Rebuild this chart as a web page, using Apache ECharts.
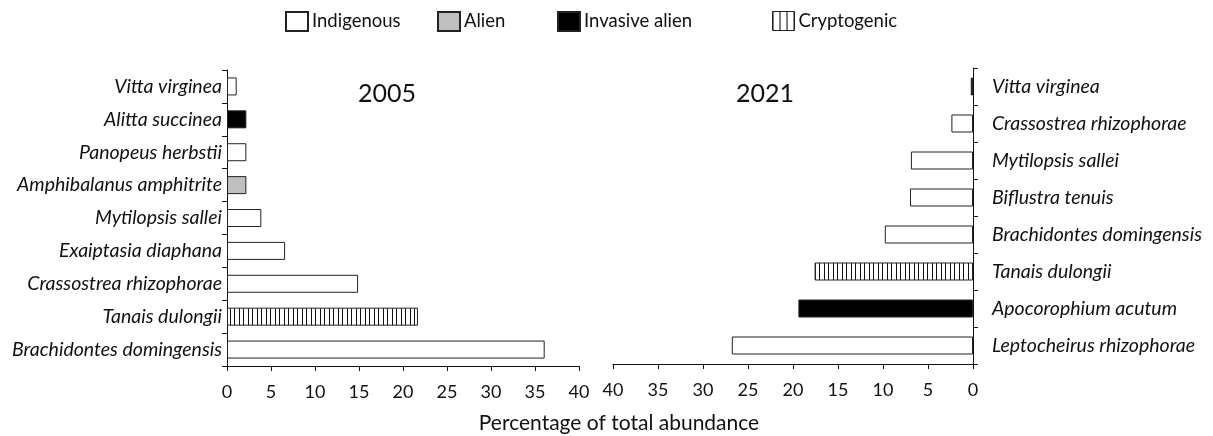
<!DOCTYPE html>
<html>
<head>
<meta charset="utf-8">
<script src="https://cdn.jsdelivr.net/npm/echarts@6/dist/echarts.min.js"></script>
<style>
  html, body { margin: 0; padding: 0; background: #fff; }
  #chart { width: 1213px; height: 436px; }
</style>
</head>
<body>
<div id="chart"></div>
<script>
// Species shares of total abundance, by survey year
const species2005 = ['Vitta virginea', 'Alitta succinea', 'Panopeus herbstii', 'Amphibalanus amphitrite',
  'Mytilopsis sallei', 'Exaiptasia diaphana', 'Crassostrea rhizophorae', 'Tanais dulongii', 'Brachidontes domingensis'];
const values2005 = [1.1, 2.2, 2.2, 2.2, 3.9, 6.6, 14.9, 21.7, 36.1];
const status2005 = ['Indigenous', 'Invasive alien', 'Indigenous', 'Alien', 'Indigenous', 'Indigenous',
  'Indigenous', 'Cryptogenic', 'Indigenous'];

const species2021 = ['Vitta virginea', 'Crassostrea rhizophorae', 'Mytilopsis sallei', 'Biflustra tenuis',
  'Brachidontes domingensis', 'Tanais dulongii', 'Apocorophium acutum', 'Leptocheirus rhizophorae'];
const values2021 = [0.25, 2.4, 6.9, 7.0, 9.8, 17.6, 19.4, 26.8];
const status2021 = ['Invasive alien', 'Indigenous', 'Indigenous', 'Indigenous', 'Indigenous',
  'Cryptogenic', 'Invasive alien', 'Indigenous'];

const statuses = ['Indigenous', 'Alien', 'Invasive alien', 'Cryptogenic'];
const xTicks = { min: 0, max: 40, interval: 5 };
const axisTitle = 'Percentage of total abundance';

// vertical hatching used for cryptogenic species
function hatch(period, h) {
  const c = document.createElement('canvas');
  c.width = period; c.height = h;
  const g = c.getContext('2d');
  g.fillStyle = '#fff';
  g.fillRect(0, 0, period, h);
  g.fillStyle = '#111';
  g.fillRect(0, 0, 1, h);
  if (period >= 9) g.fillRect(Math.round(period / 2), 0, 1, h);
  return c;
}
const barHatch = { image: hatch(9, 20), repeat: 'repeat' };
const legendHatch = { image: hatch(7, 20), repeat: 'repeat' };

const fills = {
  'Indigenous': '#ffffff',
  'Alien': '#bfbfbf',
  'Invasive alien': '#000000',
  'Cryptogenic': barHatch
};

const FONT = 'Lato';
const INK = '#111';

function seriesFor(panel, vals, stat) {
  return statuses.map(s => ({
    name: s,
    type: 'bar',
    xAxisIndex: panel,
    yAxisIndex: panel,
    stack: 'p' + panel,
    barWidth: 18,
    silent: true,
    itemStyle: { color: fills[s], borderColor: '#222', borderWidth: 1 },
    data: vals.map((v, i) => (stat[i] === s ? v : null))
  }));
}

function xAxisFor(panel, inverse) {
  return {
    type: 'value',
    gridIndex: panel,
    inverse: inverse,
    min: xTicks.min, max: xTicks.max, interval: xTicks.interval,
    axisLine: { show: true, lineStyle: { color: INK, width: 1 } },
    axisTick: { show: true, length: 5, lineStyle: { color: INK } },
    axisLabel: { fontFamily: FONT, fontSize: 18, color: INK, margin: 17 },
    splitLine: { show: false }
  };
}

function yAxisFor(panel, cats, pos, margin) {
  return {
    type: 'category',
    gridIndex: panel,
    position: pos,
    inverse: true,
    data: cats,
    axisLine: { show: true, lineStyle: { color: INK, width: 1 } },
    axisTick: { show: true, length: 5, lineStyle: { color: INK } },
    axisLabel: { fontFamily: FONT, fontStyle: 'italic', fontSize: 19.5, color: INK, margin: margin }
  };
}

const legendLefts = [285, 437, 557, 772];
const legends = statuses.map((s, i) => ({
  left: legendLefts[i],
  top: 11,
  padding: 0,
  itemWidth: 22,
  itemHeight: 19,
  itemGap: 0,
  selectedMode: false,
  icon: 'rect',
  textStyle: { fontFamily: FONT, fontSize: 18.5, color: INK, padding: [0, 0, 0, -1] },
  data: [s === 'Cryptogenic'
    ? { name: s, itemStyle: { color: legendHatch, borderColor: '#222', borderWidth: 1 } }
    : { name: s }]
}));

const chart = echarts.init(document.getElementById('chart'), null, { renderer: 'canvas' });
chart.setOption({
  animation: false,
  backgroundColor: '#fff',
  legend: legends,
  title: [
    { text: '2005', left: 382, top: 76, textAlign: 'center',
      textStyle: { fontFamily: FONT, fontSize: 25, fontWeight: 'normal', color: INK } },
    { text: '2021', left: 760, top: 76, textAlign: 'center',
      textStyle: { fontFamily: FONT, fontSize: 25, fontWeight: 'normal', color: INK } },
    { text: axisTitle, left: 614, top: 408, textAlign: 'center',
      textStyle: { fontFamily: FONT, fontSize: 21, fontWeight: 'normal', color: INK } }
  ],
  grid: [
    { left: 227, top: 70, width: 352, height: 296 },
    { left: 613, top: 68, width: 360, height: 296 }
  ],
  xAxis: [xAxisFor(0, false), xAxisFor(1, true)],
  yAxis: [yAxisFor(0, species2005, 'left', 5), yAxisFor(1, species2021, 'right', 19)],
  series: seriesFor(0, values2005, status2005).concat(seriesFor(1, values2021, status2021))
});
</script>
</body>
</html>
